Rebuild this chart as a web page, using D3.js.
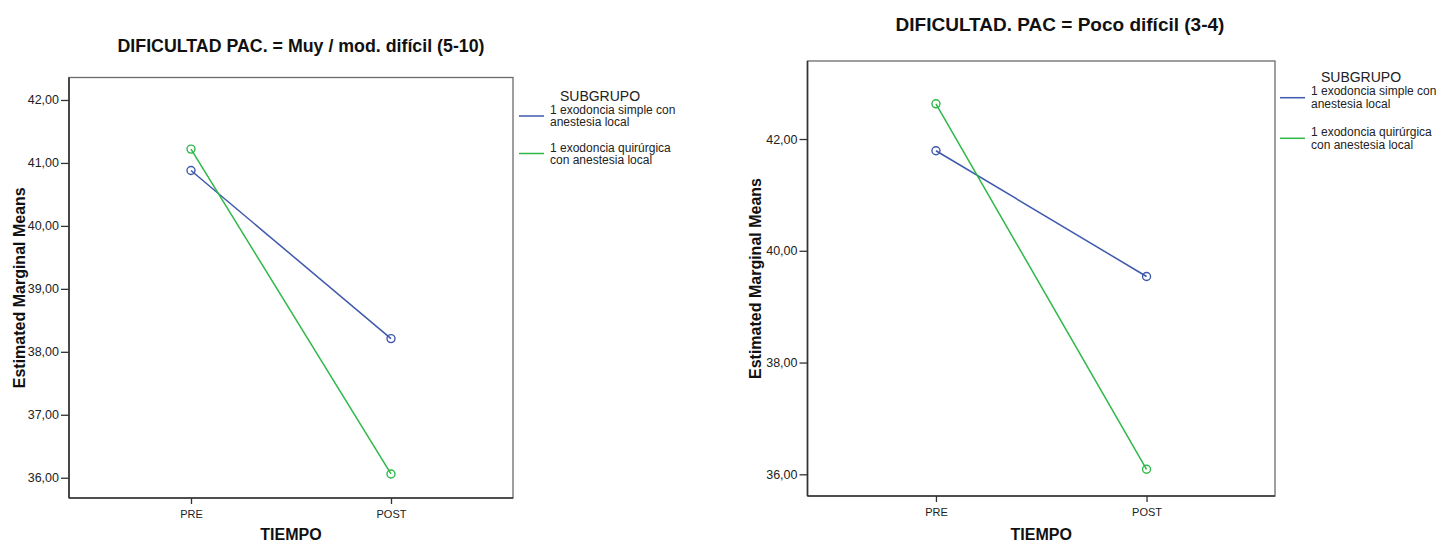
<!DOCTYPE html>
<html>
<head>
<meta charset="utf-8">
<script src="https://cdn.jsdelivr.net/npm/d3@7"></script>
<style>
  html, body { margin: 0; padding: 0; background: #fff; }
  svg { display: block; font-family: "Liberation Sans", Arial, sans-serif; }
</style>
</head>
<body>
<svg id="chart" width="1448" height="544"></svg>
<script>
// Time points on the x axis
const categories = ["PRE", "POST"];

// Legend entries (wrapped on two lines each)
const seriesLabels = [
  ["1 exodoncia simple con", "anestesia local"],
  ["1 exodoncia quirúrgica", "con anestesia local"]
];
const seriesColors = ["#3e58ac", "#2eb848"];

// Estimated marginal means, DIFICULTAD PAC. = Muy / mod. difícil (5-10)
const muySimple = [40.88, 38.21];
const muyQuirurgica = [41.22, 36.06];

// Estimated marginal means, DIFICULTAD. PAC = Poco difícil (3-4)
const pocoSimple = [41.79, 39.54];
const pocoQuirurgica = [42.63, 36.09];

// Y tick values for each panel
const muyTicks = [36, 37, 38, 39, 40, 41, 42];
const pocoTicks = [36, 38, 40, 42];

const esLocale = d3.formatLocale({ decimal: ",", thousands: ".", grouping: [3], currency: ["", " €"] });
const fmt = esLocale.format(".2f");

const svg = d3.select("#chart");

const panels = [
  {
    title: "DIFICULTAD PAC. = Muy / mod. difícil (5-10)",
    titleX: 301, titleY: 52, titleSize: 17.8,
    frame: { x0: 69, x1: 513, y0: 77.5, y1: 498 },
    yDomain: [35.678, 42.357],
    ticks: muyTicks,
    series: [muySimple, muyQuirurgica],
    yTitleX: 25,
    legend: { x: 519, titleY: 101, firstY: 116, gap: 37.5, lineGap: 12 }
  },
  {
    title: "DIFICULTAD. PAC = Poco difícil (3-4)",
    titleX: 1060, titleY: 31, titleSize: 19,
    frame: { x0: 807.5, x1: 1275, y0: 61, y1: 496 },
    yDomain: [35.612, 43.396],
    ticks: pocoTicks,
    series: [pocoSimple, pocoQuirurgica],
    yTitleX: 761,
    legend: { x: 1280, titleY: 82, firstY: 97.7, gap: 40.6, lineGap: 13 }
  }
];

panels.forEach(p => {
  const f = p.frame;
  const g = svg.append("g");

  const x = d3.scalePoint().domain(categories).range([f.x0, f.x1]).padding(0.61);
  const y = d3.scaleLinear().domain(p.yDomain).range([f.y1, f.y0]);

  // Title
  g.append("text")
    .attr("x", p.titleX).attr("y", p.titleY)
    .attr("text-anchor", "middle")
    .attr("font-size", p.titleSize).attr("font-weight", "bold")
    .attr("fill", "#111")
    .text(p.title);

  // Plot frame
  g.append("rect")
    .attr("x", f.x0).attr("y", f.y0)
    .attr("width", f.x1 - f.x0).attr("height", f.y1 - f.y0)
    .attr("fill", "none").attr("stroke", "#6a6a6a").attr("stroke-width", 1.3);

  // Y axis
  const yAxis = g.append("g")
    .attr("transform", `translate(${f.x0},0)`)
    .call(d3.axisLeft(y).tickValues(p.ticks).tickFormat(fmt).tickSize(8).tickPadding(2));
  yAxis.select(".domain").remove();
  yAxis.selectAll(".tick line").attr("stroke", "#333").attr("stroke-width", 1.3);
  yAxis.selectAll(".tick text")
    .attr("font-family", "\"Liberation Sans\", Arial, sans-serif")
    .attr("font-size", 12.5).attr("fill", "#222");

  // X axis
  const xAxis = g.append("g")
    .attr("transform", `translate(0,${f.y1})`)
    .call(d3.axisBottom(x).tickSize(6).tickPadding(6));
  xAxis.select(".domain").remove();
  xAxis.selectAll(".tick line").attr("stroke", "#333").attr("stroke-width", 1.3);
  xAxis.selectAll(".tick text")
    .attr("font-family", "\"Liberation Sans\", Arial, sans-serif")
    .attr("font-size", 11).attr("fill", "#222");

  // Left and bottom axis lines drawn heavier over the frame
  g.append("line")
    .attr("x1", f.x0).attr("x2", f.x0).attr("y1", f.y0).attr("y2", f.y1)
    .attr("stroke", "#333").attr("stroke-width", 1.6);
  g.append("line")
    .attr("x1", f.x0).attr("x2", f.x1).attr("y1", f.y1).attr("y2", f.y1)
    .attr("stroke", "#333").attr("stroke-width", 1.6);

  // Axis titles
  g.append("text")
    .attr("transform", `translate(${p.yTitleX},${(f.y0 + f.y1) / 2}) rotate(-90)`)
    .attr("text-anchor", "middle")
    .attr("font-size", 16).attr("font-weight", "bold").attr("fill", "#111")
    .text("Estimated Marginal Means");
  g.append("text")
    .attr("x", (f.x0 + f.x1) / 2).attr("y", 540)
    .attr("text-anchor", "middle")
    .attr("font-size", 16).attr("font-weight", "bold").attr("fill", "#111")
    .text("TIEMPO");

  // Lines and open-circle markers
  const line = d3.line().x((d, i) => x(categories[i])).y(d => y(d));
  p.series.forEach((vals, si) => {
    g.append("path")
      .datum(vals)
      .attr("d", line)
      .attr("fill", "none")
      .attr("stroke", seriesColors[si])
      .attr("stroke-width", 1.5);
    g.selectAll(null)
      .data(vals)
      .join("circle")
      .attr("cx", (d, i) => x(categories[i]))
      .attr("cy", d => y(d))
      .attr("r", 4)
      .attr("fill", "none")
      .attr("stroke", seriesColors[si])
      .attr("stroke-width", 1.4);
  });

  // Legend
  const L = p.legend;
  g.append("text")
    .attr("x", L.x + 81).attr("y", L.titleY)
    .attr("text-anchor", "middle")
    .attr("font-size", 14).attr("fill", "#222")
    .text("SUBGRUPO");
  seriesLabels.forEach((lbl, si) => {
    const cy = L.firstY + si * L.gap;
    g.append("line")
      .attr("x1", L.x).attr("x2", L.x + 25)
      .attr("y1", cy).attr("y2", cy)
      .attr("stroke", seriesColors[si]).attr("stroke-width", 1.5);
    const t = g.append("text")
      .attr("font-size", 12).attr("fill", "#222");
    lbl.forEach((s, li) => {
      t.append("tspan")
        .attr("x", L.x + 31)
        .attr("y", cy - L.lineGap / 2 + 4 + li * L.lineGap)
        .text(s);
    });
  });
});
</script>
</body>
</html>
